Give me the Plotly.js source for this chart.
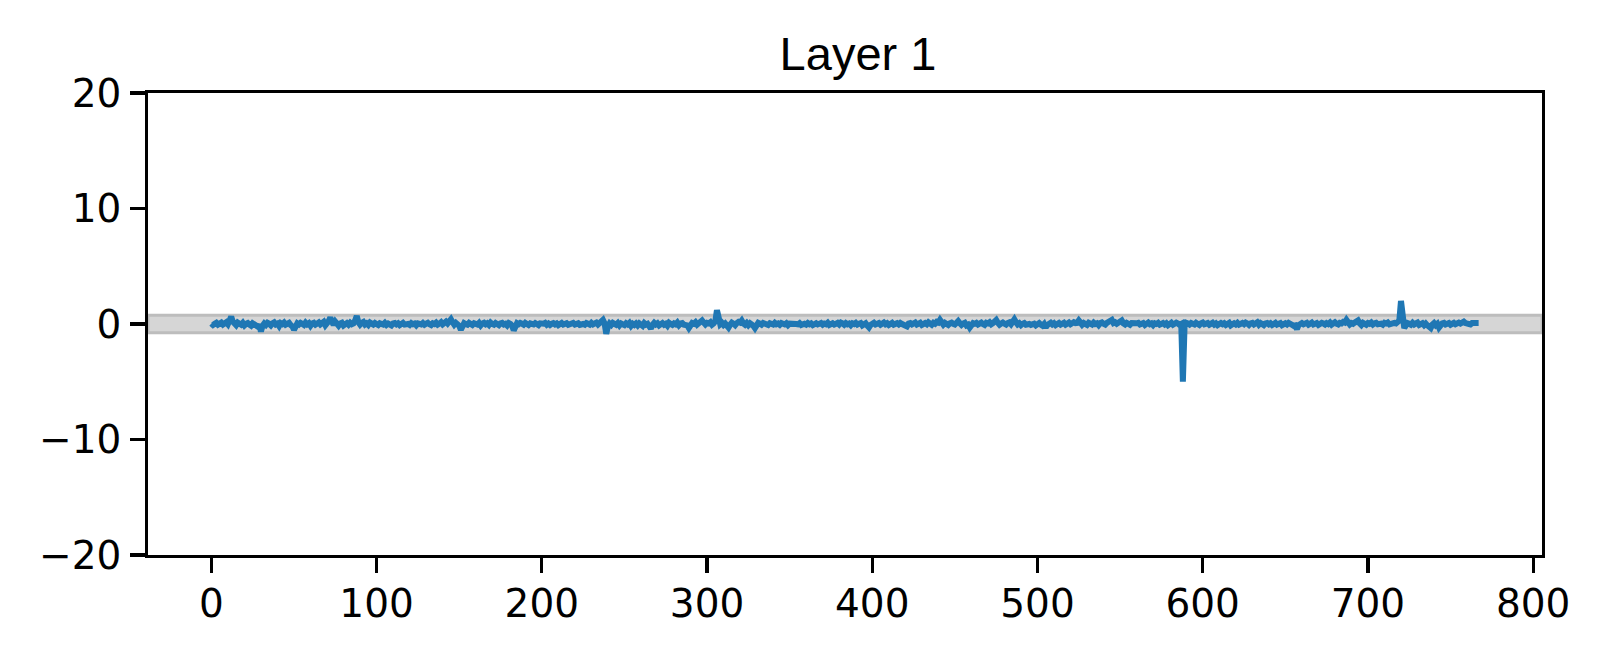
<!DOCTYPE html>
<html>
<head>
<meta charset="utf-8">
<script src="https://cdn.plot.ly/plotly-3.0.1.min.js"></script>
<style>
  html, body { margin: 0; padding: 0; background: #fff; }
  #chart { width: 1602px; height: 654px; }
</style>
</head>
<body>
<div id="chart"></div>
<script>
// values, one per unit index (0..767)
var layerValues = [
  0.05, -0.08, 0.02, 0.10, -0.05, 0.08, 0.12, -0.04, 0.06, 0.15, -0.02, 0.28, 0.62, 0.20, 0.05, -0.10,
  0.12, 0.04, -0.06, 0.10, -0.12, 0.02, 0.08, -0.05, -0.14, 0.06, 0.00, -0.10, -0.22, -0.05, -0.65, -0.15,
  0.05, -0.08, 0.10, 0.02, -0.12, 0.06, 0.14, -0.04, 0.03, -0.18, 0.08, 0.00, 0.12, -0.06, -0.02, 0.09,
  -0.10, -0.20, -0.50, -0.12, 0.06, -0.04, 0.10, 0.02, -0.08, 0.12, -0.03, 0.07, -0.15, 0.04, 0.10, -0.06,
  0.02, 0.13, -0.04, 0.08, 0.18, -0.10, 0.05, 0.25, 0.55, 0.12, -0.08, 0.20, 0.06, -0.15, 0.04, 0.10,
  -0.12, 0.02, 0.08, -0.06, 0.11, -0.02, 0.05, 0.30, 0.70, 0.15, -0.05, 0.10, 0.18, -0.04, 0.06, -0.08,
  0.12, 0.03, -0.05, 0.08, 0.00, -0.09, 0.06, 0.02, -0.04, 0.10, -0.07, 0.04, 0.00, -0.12, 0.05, 0.08,
  -0.03, 0.06, -0.10, 0.02, 0.09, -0.05, 0.03, 0.00, -0.08, 0.07, -0.02, 0.04, -0.11, 0.05, 0.01, -0.04,
  0.08, -0.06, 0.03, 0.10, -0.02, -0.09, 0.06, 0.00, 0.12, -0.05, 0.04, 0.15, -0.03, 0.08, 0.20, 0.05,
  0.18, 0.40, 0.15, -0.06, 0.10, 0.02, -0.15, -0.50, -0.10, 0.08, 0.00, -0.06, 0.10, 0.04, -0.08, 0.06,
  0.02, -0.05, 0.09, -0.12, 0.04, 0.10, -0.03, 0.06, -0.08, 0.12, 0.00, -0.06, 0.08, 0.03, -0.10, 0.05,
  0.10, -0.04, 0.02, -0.12, 0.08, 0.00, -0.15, -0.55, -0.12, 0.06, -0.02, 0.09, 0.03, -0.06, 0.10, 0.02,
  -0.08, 0.05, 0.00, -0.04, 0.08, 0.02, -0.10, 0.06, -0.02, 0.03, 0.10, -0.06, 0.04, -0.08, 0.02, 0.07,
  -0.03, 0.05, -0.10, 0.00, 0.08, -0.05, 0.02, 0.06, -0.07, 0.03, -0.02, 0.09, -0.04, 0.01, 0.06, -0.08,
  0.04, 0.00, -0.06, 0.08, 0.02, -0.05, 0.10, -0.03, 0.05, 0.12, -0.04, 0.15, 0.20, 0.35, 0.05, -0.85,
  -0.20, 0.05, -0.08, 0.10, 0.02, -0.06, 0.08, -0.12, 0.04, 0.00, -0.10, 0.06, -0.04, 0.09, -0.15, 0.02,
  -0.08, 0.04, -0.12, 0.06, 0.00, -0.16, 0.08, -0.05, 0.02, -0.20, -0.40, -0.08, 0.10, -0.04, 0.06, -0.12,
  0.03, 0.08, -0.06, 0.02, -0.14, 0.10, 0.00, -0.08, 0.05, -0.03, 0.12, -0.10, 0.04, 0.08, -0.06, -0.10,
  -0.12, -0.35, -0.08, 0.08, 0.02, 0.15, -0.05, 0.10, 0.18, 0.30, 0.12, -0.04, 0.10, 0.05, 0.15, -0.06,
  0.06, 0.25, 1.20, 0.20, -0.02, 0.10, -0.08, 0.04, -0.10, -0.30, -0.06, 0.12, 0.03, -0.10, 0.08, 0.18,
  0.12, 0.30, 0.05, -0.06, 0.08, -0.10, 0.06, 0.02, -0.15, -0.35, -0.08, 0.10, 0.04, -0.06, 0.09, 0.00,
  0.04, -0.08, 0.06, 0.00, -0.05, 0.10, -0.02, 0.04, -0.07, 0.08, 0.02, -0.04, 0.06, -0.10, 0.03, 0.05,
  -0.06, 0.09, 0.00, -0.03, 0.07, -0.08, 0.04, 0.02, -0.05, 0.08, -0.02, 0.05, -0.09, 0.03, 0.06, -0.04,
  0.01, 0.08, -0.06, 0.04, -0.02, 0.10, -0.08, 0.03, 0.06, -0.05, 0.02, 0.09, -0.04, 0.12, 0.05, -0.06,
  0.08, -0.02, 0.04, -0.10, 0.06, 0.00, 0.10, -0.05, 0.03, 0.08, -0.12, -0.04, 0.06, -0.15, -0.30, -0.08,
  0.05, 0.10, -0.04, 0.02, 0.08, -0.06, 0.04, 0.12, -0.02, 0.06, -0.08, 0.03, 0.10, -0.05, 0.02, 0.07,
  -0.04, 0.09, 0.00, -0.10, -0.06, -0.20, 0.04, 0.08, -0.03, 0.06, 0.12, -0.05, 0.02, 0.10, -0.08, 0.05,
  0.08, -0.02, 0.15, 0.04, -0.06, 0.10, 0.02, 0.18, 0.12, 0.35, 0.08, -0.05, 0.10, 0.03, -0.08, 0.06,
  0.12, 0.02, -0.04, 0.10, 0.25, 0.06, -0.08, 0.04, 0.10, -0.12, -0.05, -0.30, -0.06, 0.08, 0.02, 0.10,
  -0.04, 0.06, 0.12, 0.00, -0.08, 0.10, 0.05, 0.15, -0.02, 0.08, 0.18, 0.35, 0.10, -0.06, 0.04, 0.12,
  0.02, -0.05, 0.08, 0.14, -0.02, 0.20, 0.40, 0.15, -0.04, 0.06, -0.10, 0.02, 0.08, -0.06, 0.04, 0.00,
  -0.08, 0.06, 0.02, -0.12, 0.04, 0.08, -0.06, -0.15, 0.00, -0.30, -0.08, 0.05, 0.10, -0.04, 0.06, -0.10,
  0.03, 0.08, -0.05, 0.02, 0.10, -0.06, 0.04, 0.12, -0.02, 0.06, 0.15, 0.08, 0.10, 0.30, 0.05, -0.06,
  0.08, 0.02, -0.08, 0.10, 0.04, -0.04, 0.12, 0.00, 0.06, -0.10, 0.08, 0.14, 0.02, -0.05, 0.10, 0.18,
  0.12, 0.35, 0.08, 0.15, 0.02, 0.10, 0.20, 0.30, 0.06, -0.04, 0.10, 0.02, -0.06, 0.08, 0.04, -0.02,
  0.06, 0.10, -0.04, 0.02, 0.08, -0.08, 0.04, 0.12, -0.02, 0.05, -0.10, 0.06, 0.00, 0.09, -0.06, 0.03,
  0.08, -0.04, 0.06, -0.10, 0.02, 0.10, -0.06, 0.04, 0.12, 0.05, -0.08, 0.00, -5.00, -0.20, 0.10, 0.04,
  -0.05, 0.08, 0.02, -0.04, 0.10, 0.00, -0.08, 0.06, 0.12, -0.03, 0.04, 0.08, -0.06, 0.02, 0.10, -0.05,
  0.05, -0.10, 0.03, 0.08, -0.02, 0.06, -0.08, 0.04, 0.10, -0.12, 0.02, 0.06, -0.04, 0.09, -0.06, 0.03,
  0.08, -0.02, 0.12, 0.04, -0.08, 0.06, 0.10, -0.04, 0.02, 0.15, -0.06, 0.08, 0.00, -0.10, 0.05, 0.09,
  -0.03, 0.06, -0.08, 0.02, 0.10, -0.05, 0.04, 0.08, -0.10, 0.00, 0.06, -0.04, 0.10, 0.02, -0.08, -0.15,
  -0.12, -0.45, -0.10, 0.04, 0.08, -0.02, 0.06, 0.10, -0.06, 0.03, 0.12, -0.04, 0.05, 0.08, -0.08, 0.02,
  0.10, 0.04, -0.05, 0.08, 0.00, 0.12, -0.06, 0.05, 0.15, 0.02, -0.04, 0.10, 0.06, 0.18, 0.12, 0.35,
  0.10, -0.04, 0.08, 0.02, 0.12, 0.18, 0.30, 0.06, -0.08, 0.10, 0.04, -0.06, 0.08, 0.02, 0.12, -0.04,
  0.06, 0.10, -0.02, 0.08, 0.03, -0.06, 0.10, 0.04, 0.12, -0.03, 0.06, 0.02, 0.10, 0.05, 0.15, 0.30,
  2.00, 0.30, -0.35, -0.10, 0.08, 0.02, -0.06, 0.10, -0.04, 0.05, 0.12, -0.08, 0.02, 0.06, -0.10, 0.04,
  -0.12, -0.20, -0.35, -0.05, 0.08, -0.10, 0.02, -0.30, -0.08, 0.06, 0.10, -0.04, 0.02, 0.08, -0.06, 0.04,
  0.10, -0.02, 0.06, 0.12, 0.04, 0.15, 0.20, 0.08, 0.02, 0.06, -0.04, 0.08, 0.10, 0.05, 0.12, 0.08
];
var layerIndex = layerValues.map(function (v, i) { return i; });

// shaded band around zero
var bandLow = -0.75;
var bandHigh = 0.75;

var xTicks = [0, 100, 200, 300, 400, 500, 600, 700, 800];
var yTicks = [-20, -10, 0, 10, 20];
var chartTitle = 'Layer 1';

var trace = {
  x: layerIndex,
  y: layerValues,
  type: 'scatter',
  mode: 'lines',
  line: { color: '#1f77b4', width: 6 },
  hoverinfo: 'x+y'
};

var axisFont = { family: 'DejaVu Sans', size: 39, color: '#000' };

var layout = {
  width: 1602,
  height: 654,
  margin: { l: 148, r: 60, t: 93, b: 99 },
  paper_bgcolor: '#fff',
  plot_bgcolor: '#fff',
  showlegend: false,
  title: {
    text: chartTitle,
    font: { family: 'Liberation Sans', size: 47, color: '#000' },
    xref: 'container', x: 858 / 1602, xanchor: 'center',
    yref: 'container', y: 1 - 54 / 654, yanchor: 'middle'
  },
  xaxis: {
    range: [-38.35, 805.35],
    tickvals: xTicks,
    ticktext: xTicks.map(String),
    ticks: 'outside', ticklen: 14.6, tickwidth: 3.3, tickcolor: '#000',
    showline: true, linewidth: 3.3, linecolor: '#000', mirror: true,
    showgrid: false, zeroline: false,
    tickfont: axisFont,
    ticklabelstandoff: -3
  },
  yaxis: {
    range: [-20, 20],
    tickvals: yTicks,
    ticks: 'outside', ticklen: 14.6, tickwidth: 3.3, tickcolor: '#000',
    showline: true, linewidth: 3.3, linecolor: '#000', mirror: true,
    showgrid: false, zeroline: false,
    tickfont: axisFont,
    ticklabelstandoff: 1
  },
  shapes: [{
    type: 'rect', layer: 'below',
    xref: 'paper', x0: 0, x1: 1,
    yref: 'y', y0: bandLow, y1: bandHigh,
    fillcolor: '#d6d6d6',
    line: { color: '#bdbdbd', width: 3 }
  }]
};

Plotly.newPlot('chart', [trace], layout, { displayModeBar: false, staticPlot: true });
</script>
</body>
</html>
